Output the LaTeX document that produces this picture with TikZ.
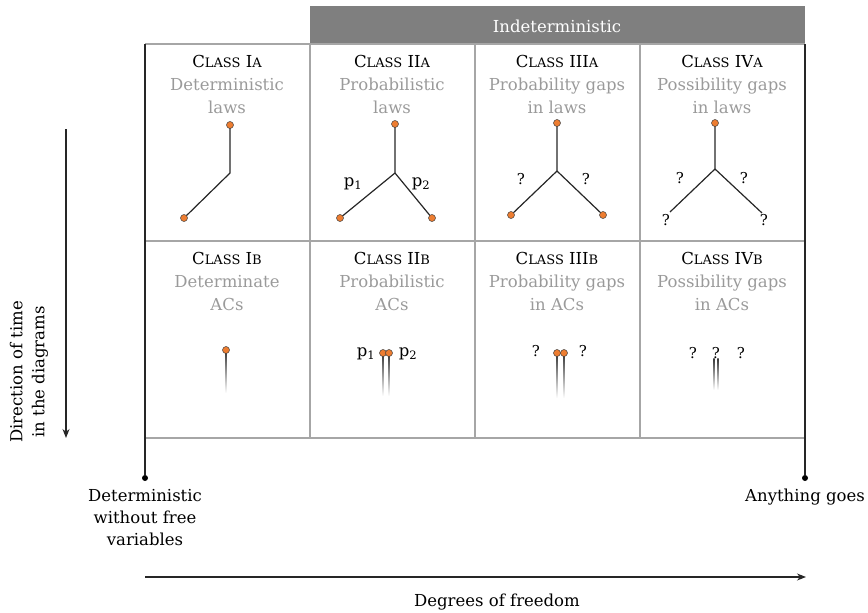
\documentclass[tikz,border=0pt]{standalone}
\usepackage{fontspec}
\setmainfont{DejaVu Serif}
\usetikzlibrary{arrows.meta}
\definecolor{orangedot}{HTML}{ED7D31}
\definecolor{gridgray}{HTML}{A6A6A6}
\definecolor{subgray}{HTML}{9A9A9A}
\definecolor{headgray}{HTML}{7F7F7F}
\newcommand{\smc}[1]{{\fontsize{13}{15}\selectfont #1}}
\tikzset{
  dot/.style={circle, fill=orangedot, draw=black!75, line width=0.5pt, inner sep=0pt, minimum size=7pt},
  bdot/.style={circle, fill=black, inner sep=0pt, minimum size=6pt},
  gridline/.style={draw=gridgray, line width=1.3pt},
  axisline/.style={draw=black!85, line width=1.1pt},
  branch/.style={draw=black!85, line width=1.2pt},
  cls/.style={font=\fontsize{16.5}{18}\selectfont, inner sep=0pt, anchor=base},
  sub/.style={text=subgray, font=\fontsize{16.5}{23}\selectfont, align=center, inner sep=0pt},
  lbl/.style={font=\fontsize{16.5}{22}\selectfont, inner sep=0pt, align=center},
  q/.style={font=\fontsize{15}{18}\selectfont, inner sep=0pt},
}
\newcommand{\fadeline}[3]{\shade[top color=black!80, bottom color=white] (#1-0.6,#2) rectangle (#1+0.6,#3);}
\begin{document}
\begin{tikzpicture}[x=1pt,y=-1pt]
\useasboundingbox (0,0) rectangle (868,613);
% header
\fill[headgray] (310,6) rectangle (805,44);
\node[text=white, font=\fontsize{16.5}{20}\selectfont, inner sep=0pt] (indet) at (557,26) {Indeterministic};
% grid
\draw[gridline] (145,44) -- (805,44);
\draw[gridline] (145,241) -- (805,241);
\draw[gridline] (145,438) -- (805,438);
\draw[gridline] (310,44) -- (310,438);
\draw[gridline] (475,44) -- (475,438);
\draw[gridline] (640,44) -- (640,438);
% axis verticals
\node[bdot] (dl) at (145,478) {};
\node[bdot] (dr) at (805,478) {};
\coordinate (tl) at (145,44);
\coordinate (tr) at (805,44);
\draw[axisline] (tl) -- (dl);
\draw[axisline] (tr) -- (dr);
% titles
\node[cls] (c1a) at (227,67) {C\smc{LASS} I\smc{A}};
\node[sub] (s1a) at (227,96) {Deterministic\\laws};
\node[cls] (c2a) at (392,67) {C\smc{LASS} II\smc{A}};
\node[sub] (s2a) at (392,96) {Probabilistic\\laws};
\node[cls] (c3a) at (557,67) {C\smc{LASS} III\smc{A}};
\node[sub] (s3a) at (557,96) {Probability gaps\\in laws};
\node[cls] (c4a) at (722,67) {C\smc{LASS} IV\smc{A}};
\node[sub] (s4a) at (722,96) {Possibility gaps\\in laws};
\node[cls] (c1b) at (227,264) {C\smc{LASS} I\smc{B}};
\node[sub] (s1b) at (227,293) {Determinate\\ACs};
\node[cls] (c2b) at (392,264) {C\smc{LASS} II\smc{B}};
\node[sub] (s2b) at (392,293) {Probabilistic\\ACs};
\node[cls] (c3b) at (557,264) {C\smc{LASS} III\smc{B}};
\node[sub] (s3b) at (557,293) {Probability gaps\\in ACs};
\node[cls] (c4b) at (722,264) {C\smc{LASS} IV\smc{B}};
\node[sub] (s4b) at (722,293) {Possibility gaps\\in ACs};
% Class IA diagram
\coordinate (j1) at (230,173);
\draw[branch] (230,125) -- (j1) -- (184,218);
\node[dot] (t1) at (230,125) {};
\node[dot] (l1) at (184,218) {};
% Class IIA
\coordinate (j2) at (395,173);
\draw[branch] (395,124) -- (j2) -- (340,218);
\draw[branch] (j2) -- (432,218);
\node[dot] (t2) at (395,124) {};
\node[dot] (l2) at (340,218) {};
\node[dot] (r2) at (432,218) {};
\node[lbl] (p1a) at (353,184) {p\textsubscript{1}};
\node[lbl] (p2a) at (421,184) {p\textsubscript{2}};
% Class IIIA
\coordinate (j3) at (557,171);
\draw[branch] (557,123) -- (j3) -- (511,215);
\draw[branch] (j3) -- (603,215);
\node[dot] (t3) at (557,123) {};
\node[dot] (l3) at (511,215) {};
\node[dot] (r3) at (603,215) {};
\node[q] (q3l) at (521,179) {?};
\node[q] (q3r) at (586,179) {?};
% Class IVA
\coordinate (j4) at (715,169);
\coordinate (e4l) at (670,212);
\coordinate (e4r) at (762,213);
\draw[branch] (715,123) -- (j4) -- (e4l);
\draw[branch] (j4) -- (e4r);
\node[dot] (t4) at (715,123) {};
\node[q] (q4l) at (680,178) {?};
\node[q] (q4r) at (744,178) {?};
\node[q] (q4bl) at (666,220) {?};
\node[q] (q4br) at (764,220) {?};
% Class IB
\fadeline{226}{350}{393}
\node[dot] (d1b) at (226,350) {};
% Class IIB
\fadeline{383}{353}{396}
\fadeline{389}{353}{396}
\node[dot] (d2b1) at (383,353) {};
\node[dot] (d2b2) at (389,353) {};
\node[lbl] (p1b) at (366,354) {p\textsubscript{1}};
\node[lbl] (p2b) at (408,354) {p\textsubscript{2}};
% Class IIIB
\fadeline{557}{353}{398}
\fadeline{564}{353}{398}
\node[dot] (d3b1) at (557,353) {};
\node[dot] (d3b2) at (564,353) {};
\node[q] (q3bl) at (536,351) {?};
\node[q] (q3br) at (583,351) {?};
% Class IVB
\fadeline{714}{358}{390}
\fadeline{718}{358}{390}
\node[q] (q4b1) at (693,353) {?};
\node[q] (q4b2) at (716,353) {?};
\node[q] (q4b3) at (741,353) {?};
% time arrow
\coordinate (ta) at (66,129);
\coordinate (tb) at (66,438);
\draw[axisline, -{Stealth[length=9pt,width=7pt]}] (ta) -- (tb);
\node[lbl, rotate=90] (timelbl) at (29,372) {Direction of time\\in the diagrams};
% bottom labels
\node[lbl] (detlbl) at (145,518) {Deterministic\\without free\\variables};
\node[lbl] (anylbl) at (805,497) {Anything goes};
% degrees of freedom arrow
\coordinate (fa) at (145,577);
\coordinate (fb) at (806,577);
\draw[axisline, -{Stealth[length=9pt,width=7pt]}] (fa) -- (fb);
\node[lbl] (doflbl) at (497,602) {Degrees of freedom};
\end{tikzpicture}
\end{document}
